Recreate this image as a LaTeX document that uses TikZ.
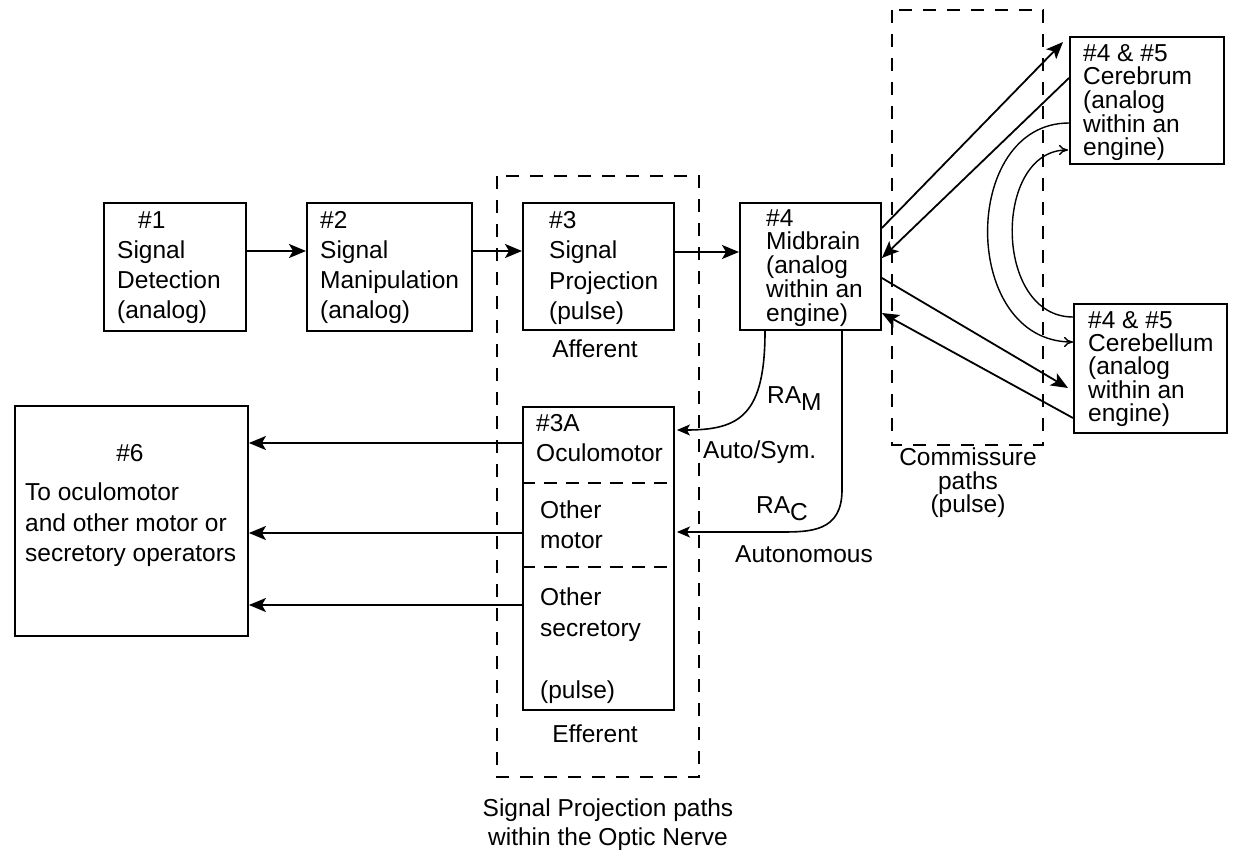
\documentclass[tikz,border=0pt]{standalone}
\usepackage{fontspec}
\setmainfont{Liberation Sans}
\usetikzlibrary{arrows.meta,calc}
\begin{document}
\begin{tikzpicture}[x=1pt,y=-1pt,
  box/.style={draw, line width=1.9pt, inner sep=0pt, anchor=north west},
  txt/.style={inner sep=0pt, font=\fontsize{24.5}{30}\selectfont},
  btxt/.style={txt, anchor=north west, align=left},
  conn/.style={line width=1.8pt, -{Stealth[length=17pt,width=14pt,inset=4pt]}},
  sconn/.style={line width=1.6pt, -{Stealth[length=13pt,width=11pt,inset=3pt]}},
  thin/.style={line width=1.4pt, -{To[length=9pt,width=10pt]}},
  dbox/.style={draw, line width=1.9pt, dash pattern=on 13pt off 11pt},
  divider/.style={line width=1.7pt, dash pattern=on 13pt off 9pt}]
\useasboundingbox (0,0) rectangle (1233,850);
\fill[white] (0,0) rectangle (1233,850);

% dashed frames
\draw[dbox] (497,176) rectangle (699,777);
\draw[dbox] (892,10) rectangle (1043,445);

% boxes
\node[box, minimum width=142pt, minimum height=128pt] (b1) at (103,202) {};
\node[box, minimum width=165pt, minimum height=128pt] (b2) at (306,202) {};
\node[box, minimum width=151pt, minimum height=127pt] (b3) at (522,202) {};
\node[box, minimum width=141pt, minimum height=127pt] (mid) at (739,202) {};
\node[box, minimum width=154pt, minimum height=127pt] (cbr) at (1069,36) {};
\node[box, minimum width=153pt, minimum height=129pt] (cbl) at (1073,303) {};
\node[box, minimum width=151pt, minimum height=303pt] (b3a) at (522,406) {};
\node[box, minimum width=233pt, minimum height=230pt] (b6) at (14,405) {};

\draw[divider] ($(b3a.north west)+(0,77)$) -- ($(b3a.north east)+(0,77)$);
\draw[divider] ($(b3a.north west)+(0,161)$) -- ($(b3a.north east)+(0,161)$);

% box texts
\node[btxt] (t1) at (117,211) {\hspace*{21pt}\#1\\Signal\\Detection\\(analog)};
\node[btxt] (t2) at (320,211) {\#2\\Signal\\Manipulation\\(analog)};
\node[btxt, font=\fontsize{24.5}{30.5}\selectfont] (t3) at (549,211) {\#3\\Signal\\Projection\\(pulse)};
\node[btxt, font=\fontsize{24.5}{23.75}\selectfont] (t4) at (766,209) {\#4\\Midbrain\\(analog\\within an\\engine)};
\node[btxt, font=\fontsize{24.5}{23.7}\selectfont] (tcr) at (1083,44) {\#4 \& \#5\\Cerebrum\\(analog\\within an\\engine)};
\node[btxt, font=\fontsize{24.5}{23.4}\selectfont] (tcl) at (1088,311) {\#4 \& \#5\\Cerebellum\\(analog\\within an\\engine)};
\node[btxt] (t3a) at (536,414) {\#3A\\Oculomotor};
\node[btxt] (tom) at (540,501) {Other\\motor};
\node[btxt, font=\fontsize{24.5}{31}\selectfont] (tos) at (540,588) {Other\\secretory\\[31pt](pulse)};
\node[txt, anchor=base] (t6n) at (130,461) {\#6};
\node[btxt, font=\fontsize{24.5}{30.5}\selectfont] (t6) at (25,483) {To oculomotor\\and other motor or\\secretory operators};

% labels
\node[txt, anchor=base] (aff) at (595,357) {Afferent};
\node[txt, anchor=base] (eff) at (595,742) {Efferent};
\node[txt, anchor=north, align=center, font=\fontsize{24.5}{29}\selectfont] (spp) at (608,799) {Signal Projection paths\\within the Optic Nerve};
\node[txt, anchor=north, align=center, font=\fontsize{24.5}{23.5}\selectfont] (com) at (968,448) {Commissure\\paths\\(pulse)};
\node[txt, anchor=base west] (ram) at (767,403.5) {RA\raisebox{-7pt}{M}};
\node[txt, anchor=base west] (aus) at (703,458) {Auto/Sym.};
\node[txt, anchor=base west] (rac) at (756,513.5) {RA\raisebox{-7pt}{C}};
\node[txt, anchor=base west] (aut) at (735,562) {Autonomous};

% afferent chain
\draw[conn] ($(b1.north east)+(0,49)$) -- ($(b2.north west)+(0,49)$);
\draw[conn] ($(b2.north east)+(0,49)$) -- ($(b3.north west)+(0,49)$);
\draw[conn] ($(b3.north east)+(0,50)$) -- ($(mid.north west)+(0,50)$);

% midbrain <-> cerebrum / cerebellum
\draw[conn] ($(mid.north east)+(0,26)$) -- ($(cbr.north west)+(-6,6)$);
\draw[conn] ($(cbr.north west)+(0,42)$) -- ($(mid.north east)+(0,56)$);
\draw[conn] ($(mid.north east)+(0,76)$) -- ($(cbl.north west)+(-5,85)$);
\draw[conn] ($(cbl.north west)+(0,115)$) -- ($(mid.north east)+(0,111)$);

% cerebrum <-> cerebellum arcs
\draw[thin] ($(cbr.north west)+(0,87)$) .. controls (960,123) and (960,342) .. ($(cbl.north west)+(0,39)$);
\draw[thin] ($(cbl.north west)+(0,14)$) .. controls (993,317) and (993,150) .. ($(cbr.north west)+(-1,114)$);

% RA paths
\draw[sconn] ($(mid.south west)+(26,0)$) .. controls (765,415) and (740,430) .. ($(b3a.north east)+(2,24)$);
\draw[sconn] ($(mid.south west)+(103,0)$) -- (842,490) .. controls (842,532) and (810,532) .. (780,532) -- ($(b3a.north east)+(2,126)$);

% efferent to #6
\draw[conn] ($(b3a.north west)+(0,37)$) -- ($(b6.north east)+(0,38)$);
\draw[conn] ($(b3a.north west)+(0,127)$) -- ($(b6.north east)+(0,128)$);
\draw[conn] ($(b3a.north west)+(0,199)$) -- ($(b6.north east)+(0,200)$);
\end{tikzpicture}
\end{document}
